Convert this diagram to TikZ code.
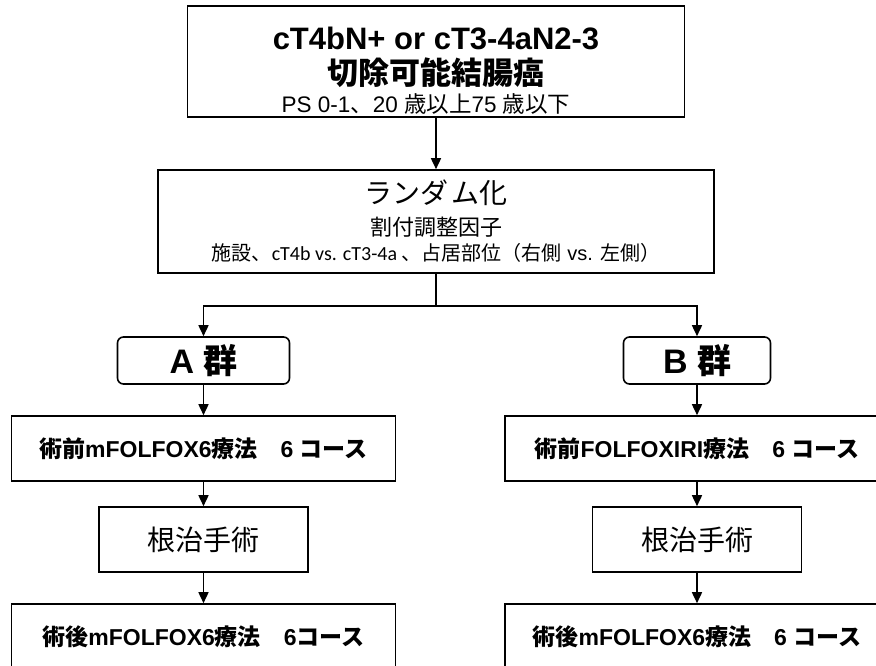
\documentclass[tikz,border=0pt]{standalone}
\usepackage{fontspec}
\setmainfont{Liberation Sans}
\newfontfamily\jpfont{Noto Sans CJK JP}
\newfontfamily\carlitofont{Carlito}
\usetikzlibrary{arrows.meta}
\newcommand\J[1]{{\jpfont #1}}
\newcommand\setfs[1]{\fontsize{#1}{#1}\selectfont}
\begin{document}
\begin{tikzpicture}[x=1pt,y=-1pt,
  box/.style={draw,line width=1.6pt,inner sep=0pt,minimum height=65pt,fill=white},
  grp/.style={draw,line width=1.6pt,inner sep=0pt,minimum height=47pt,rounded corners=6pt},
  arr/.style={line width=1.6pt,-{Triangle[width=10pt,length=11pt]}},
  ln/.style={line width=1.6pt},
  txt/.style={inner sep=0pt,anchor=base}]
\useasboundingbox[fill=white] (0,0) rectangle (876,666);
% top box
\node[box,minimum width=497pt,minimum height=111pt] (top) at (436,61.5) {};
\node[txt] (t1) at (436,50) {\setfs{31}\bfseries cT4bN+ or cT3-4aN2-3};
\node[txt] (t2) at (436,85) {\setfs{31}\jpfont\bfseries 切除可能結腸癌};
\node[txt] (t3) at (426,113) {\setfs{22.5}PS 0-1\J{、}20 \J{歳以上}75 \J{歳以下}};
% randomization
\node[box,minimum width=556pt,minimum height=103pt] (rand) at (436,221.5) {};
\node[txt] (r1) at (436,204) {\setfs{28}\jpfont ランダ\kern4pt ム化};
\node[txt] (r2) at (436,236) {\setfs{22}\jpfont 割付調整因子};
\node[txt] (r3) at (436,260) {\setfs{20}\J{施設、}{\carlitofont cT4b vs. cT3-4a }\J{、占居部位（右側} vs. \J{左側）}};
\coordinate (split) at (436,306);
% groups
\node[grp,minimum width=172pt] (A) at (203.5,360.5) {\setfs{34}\bfseries A \J{群}};
\node[grp,minimum width=147pt] (B) at (697,360.5) {\setfs{34}\bfseries B \J{群}};
% left column
\node[box,minimum width=384pt] (L1) at (203.5,448.5) {\setfs{23}\bfseries\J{術前}mFOLFOX6\J{療法　}6 \J{コース}};
\node[box,minimum width=209pt] (L2) at (203.5,539.5) {\setfs{28}\jpfont 根治手術};
\node[box,minimum width=384pt] (L3) at (203.5,636.5) {\setfs{23}\bfseries\J{術後}mFOLFOX6\J{療法　}6\J{コース}};
% right column
\node[box,minimum width=384pt] (R1) at (697,448.5) {\setfs{23}\bfseries\J{術前}FOLFOXIRI\J{療法　}6 \J{コース}};
\node[box,minimum width=209pt] (R2) at (697,539.5) {\setfs{28}\jpfont 根治手術};
\node[box,minimum width=384pt] (R3) at (697,636.5) {\setfs{23}\bfseries\J{術後}mFOLFOX6\J{療法　}6 \J{コース}};
% connectors
\draw[arr] (top.south) -- (rand.north);
\draw[ln] (rand.south) -- (split);
\draw[arr] (split) -| (A.north);
\draw[arr] (split) -| (B.north);
\draw[arr] (A.south) -- (L1.north);
\draw[arr] (L1.south) -- (L2.north);
\draw[arr] (L2.south) -- (L3.north);
\draw[arr] (B.south) -- (R1.north);
\draw[arr] (R1.south) -- (R2.north);
\draw[arr] (R2.south) -- (R3.north);
\end{tikzpicture}
\end{document}
